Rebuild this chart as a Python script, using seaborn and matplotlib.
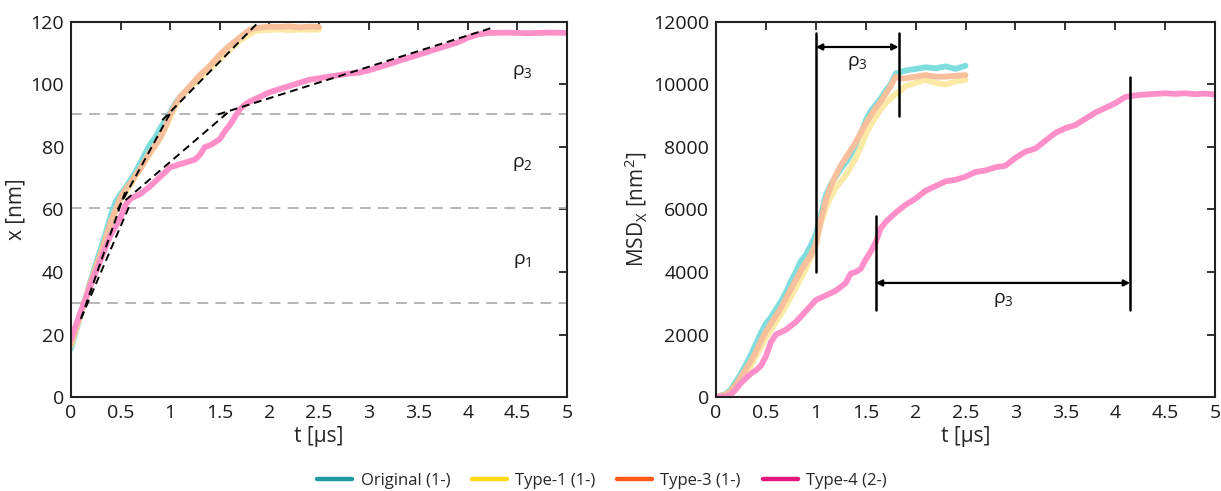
import numpy as np
import pandas as pd
import matplotlib
matplotlib.use("Agg")
import matplotlib.pyplot as plt
from matplotlib.lines import Line2D
import seaborn as sns

sns.set_theme(style="white")
plt.rcParams["font.family"] = ["Open Sans", "DejaVu Sans"]
plt.rcParams["mathtext.default"] = "regular"

# ---------------- data ----------------
series_names = ["Original (1-)", "Type-1 (1-)", "Type-3 (1-)", "Type-4 (2-)"]
legend_colors = ["#1e9aa0", "#ffd815", "#ff5a1c", "#e6177c"]
trace_colors = ["#7edede", "#fbe9a6", "#f8bf9c", "#ff8fc8"]

# position x [nm] vs time t [us]
t_pos_a = [0, 0.05, 0.1, 0.15, 0.2, 0.25, 0.3, 0.35, 0.4, 0.45, 0.5, 0.55, 0.6,
           0.65, 0.7, 0.75, 0.8, 0.85, 0.9, 0.95, 1.0, 1.05, 1.1, 1.2, 1.3, 1.4,
           1.5, 1.6, 1.7, 1.8, 1.85, 1.9, 2.0, 2.1, 2.2, 2.3, 2.4, 2.5]
x_original = [15.5, 21, 26.5, 32, 37.5, 42.5, 47.5, 52.5, 58, 62.5, 65, 67, 69.5,
              72, 75, 78, 81, 83, 86, 88.5, 91, 94, 96, 99, 102.5, 105.5,
              108.5, 111.5, 114.5, 116.5, 117.5, 118, 118.2, 118, 118.3, 118.1, 118.2, 118.3]
x_type1 = [16.5, 21.5, 26.5, 31.5, 36.5, 41, 45.5, 50.5, 55, 59.5, 63, 65.5, 68,
           70.5, 73, 75.5, 78, 80.5, 83, 86, 89.5, 93, 95.5, 99, 102, 105,
           108, 111, 114, 116, 117, 117.3, 117.5, 117.6, 117.4, 117.6, 117.5, 117.6]
x_type3 = [17, 22, 27, 32, 37, 41.5, 46, 51, 56, 60, 64, 66.5, 68.5,
           71, 73, 76, 78.5, 80.5, 83, 86.5, 90.5, 93.5, 96, 99.5, 103, 106,
           109.5, 112.5, 115, 117.5, 118, 118.2, 118.5, 118.4, 118.6, 118.3, 118.5, 118.4]
t_pos_b = [0, 0.05, 0.1, 0.15, 0.2, 0.25, 0.3, 0.35, 0.4, 0.45, 0.5, 0.55, 0.6,
           0.7, 0.8, 0.9, 1.0, 1.1, 1.2, 1.25, 1.3, 1.35, 1.4, 1.45, 1.5, 1.55,
           1.6, 1.65, 1.7, 1.75, 1.8, 1.9, 2.0, 2.2, 2.4, 2.6, 2.8, 2.9, 3.0,
           3.2, 3.4, 3.6, 3.8, 3.9, 4.0, 4.1, 4.2, 4.4, 4.6, 4.8, 5.0]
x_type4 = [18.5, 23, 27.5, 31.5, 36, 40, 44, 48, 52, 54.5, 57.5, 61.5, 63.5,
           65, 67.5, 70.5, 73.5, 74.5, 75.5, 76, 77.5, 80, 80.5, 81.5, 82.5, 85,
           87, 89.5, 92, 93.5, 94.5, 96, 97.5, 99.5, 101.5, 102.5, 103.5, 103.8, 104.5,
           106.5, 108.5, 110.5, 112.5, 113.5, 115, 116, 116.5, 116.6, 116.4, 116.6, 116.5]

# piecewise linear fits (t, x) for both groups
fit_segments = [
    ([0.10, 0.55], [25.0, 66.0]),
    ([0.47, 1.02], [60.0, 92.0]),
    ([0.92, 1.91], [88.6, 120.6]),
    ([0.10, 0.60], [25.0, 62.0]),
    ([0.55, 1.58], [63.0, 91.0]),
    ([1.48, 4.23], [90.4, 118.0]),
]
boundary_levels = [30.0, 60.5, 90.5]
region_labels = [(4.55, 43.5, "ρ$_1$"), (4.55, 74.5, "ρ$_2$"), (4.55, 104.0, "ρ$_3$")]

# MSD_X [nm^2] vs time t [us]
t_msd_a = [0, 0.1, 0.15, 0.2, 0.25, 0.3, 0.35, 0.4, 0.45, 0.5, 0.55, 0.6, 0.65,
           0.7, 0.75, 0.8, 0.85, 0.9, 0.95, 1.0, 1.05, 1.1, 1.15, 1.2, 1.25, 1.3,
           1.35, 1.4, 1.45, 1.5, 1.55, 1.6, 1.65, 1.7, 1.75, 1.8, 1.85, 1.9, 2.0,
           2.1, 2.2, 2.3, 2.4, 2.5]
msd_original = [0, 100, 250, 500, 750, 1050, 1350, 1700, 2050, 2350, 2550, 2800, 3050,
                3350, 3700, 4000, 4350, 4550, 4850, 5200, 5800, 6450, 6800, 7050, 7300, 7500,
                7750, 8000, 8400, 8850, 9150, 9350, 9550, 9800, 10000, 10350, 10400, 10450, 10500,
                10550, 10520, 10580, 10500, 10600]
msd_type1 = [0, 50, 120, 280, 500, 750, 1000, 1300, 1600, 1900, 2150, 2400, 2650,
             2900, 3200, 3500, 3800, 4100, 4450, 4850, 5550, 6050, 6400, 6700, 6900, 7100,
             7350, 7650, 8000, 8400, 8700, 8950, 9200, 9400, 9550, 9700, 9800, 9950, 10050,
             10150, 10050, 10000, 10100, 10150]
msd_type3 = [0, 80, 200, 400, 650, 900, 1150, 1450, 1800, 2100, 2350, 2600, 2850,
             3150, 3450, 3750, 4050, 4300, 4550, 4900, 5650, 6300, 6750, 7100, 7400, 7650,
             7900, 8150, 8450, 8750, 9000, 9250, 9450, 9700, 9950, 10250, 10200, 10200, 10250,
             10300, 10250, 10250, 10280, 10300]
t_msd_b = [0, 0.1, 0.15, 0.2, 0.25, 0.3, 0.35, 0.4, 0.45, 0.5, 0.55, 0.6, 0.7,
           0.8, 0.9, 1.0, 1.1, 1.2, 1.3, 1.35, 1.4, 1.45, 1.5, 1.55, 1.6, 1.65,
           1.7, 1.8, 1.9, 2.0, 2.1, 2.2, 2.3, 2.4, 2.5, 2.6, 2.7, 2.8, 2.9,
           3.0, 3.1, 3.2, 3.3, 3.4, 3.5, 3.6, 3.7, 3.8, 3.9, 4.0, 4.1, 4.2,
           4.3, 4.4, 4.5, 4.6, 4.7, 4.8, 4.9, 5.0]
msd_type4 = [0, 20, 80, 250, 450, 600, 750, 850, 1000, 1300, 1750, 2000, 2150,
             2400, 2750, 3100, 3250, 3400, 3650, 3950, 4000, 4100, 4400, 4650, 4950, 5400,
             5600, 5900, 6150, 6350, 6600, 6750, 6900, 6950, 7050, 7200, 7250, 7350, 7400,
             7650, 7850, 7950, 8200, 8450, 8600, 8700, 8900, 9100, 9250, 9400, 9600, 9650,
             9680, 9700, 9720, 9700, 9720, 9690, 9710, 9680]

# regime markers on the MSD panel:
# (t_start, t_end, arrow_y, start_bar_lo, start_bar_hi, end_bar_lo, end_bar_hi, label_t, label_y)
regime_markers = [
    (1.0, 1.83, 11200, 4000, 11650, 9000, 11650, 1.42, 10700),
    (1.6, 4.15, 3650, 2800, 5800, 2800, 10250, 2.88, 3100),
]

# ---------------- tables ----------------
pos_df = pd.concat([
    pd.DataFrame({"t": t_pos_a, "x": x_original, "series": series_names[0]}),
    pd.DataFrame({"t": t_pos_a, "x": x_type1, "series": series_names[1]}),
    pd.DataFrame({"t": t_pos_a, "x": x_type3, "series": series_names[2]}),
    pd.DataFrame({"t": t_pos_b, "x": x_type4, "series": series_names[3]}),
], ignore_index=True)
msd_df = pd.concat([
    pd.DataFrame({"t": t_msd_a, "msd": msd_original, "series": series_names[0]}),
    pd.DataFrame({"t": t_msd_a, "msd": msd_type1, "series": series_names[1]}),
    pd.DataFrame({"t": t_msd_a, "msd": msd_type3, "series": series_names[2]}),
    pd.DataFrame({"t": t_msd_b, "msd": msd_type4, "series": series_names[3]}),
], ignore_index=True)
trace_palette = dict(zip(series_names, trace_colors))

# ---------------- figure ----------------
fig = plt.figure(figsize=(12.21, 4.91), dpi=100)
ax1 = fig.add_axes([71 / 1221, 1 - 397 / 491, (567 - 71) / 1221, (397 - 22) / 491])
ax2 = fig.add_axes([716 / 1221, 1 - 397 / 491, (1215 - 716) / 1221, (397 - 22) / 491])

TICK_FS = 14
LABEL_FS = 15
t_ticks = np.arange(0, 5.01, 0.5)
t_labels = ["0", "0.5", "1", "1.5", "2", "2.5", "3", "3.5", "4", "4.5", "5"]

# left panel: position traces
for lvl in boundary_levels:
    ax1.axhline(lvl, color="#b0b0b0", lw=1.3, ls=(0, (6, 4)), zorder=1)

sns.lineplot(data=pos_df, x="t", y="x", hue="series", palette=trace_palette,
             hue_order=series_names, lw=4.2, ax=ax1, legend=False, sort=False,
             estimator=None, zorder=2, solid_capstyle="round")
for ts, xs in fit_segments:
    ax1.plot(ts, xs, color="black", lw=1.4, ls=(0, (4, 2.5)), zorder=4)
for tx, ty, lab in region_labels:
    ax1.text(tx, ty, lab, fontsize=TICK_FS, ha="center", va="center", color="#1a1a1a")

ax1.set_xlim(0, 5)
ax1.set_ylim(0, 120)
ax1.set_xticks(t_ticks)
ax1.set_xticklabels(t_labels)
ax1.set_yticks(np.arange(0, 121, 20))
ax1.set_xlabel("t [µs]", fontsize=LABEL_FS, labelpad=3)
ax1.set_ylabel("x [nm]", fontsize=LABEL_FS, labelpad=3)

# right panel: MSD traces
sns.lineplot(data=msd_df, x="t", y="msd", hue="series", palette=trace_palette,
             hue_order=series_names, lw=4.2, ax=ax2, legend=False, sort=False,
             estimator=None, zorder=2, solid_capstyle="round")

for (ta, tb, ya, s_lo, s_hi, e_lo, e_hi, lt, ly) in regime_markers:
    ax2.plot([ta, ta], [s_lo, s_hi], color="black", lw=1.8, zorder=5)
    ax2.plot([tb, tb], [e_lo, e_hi], color="black", lw=1.8, zorder=5)
    ax2.annotate("", xy=(tb, ya), xytext=(ta, ya),
                 arrowprops=dict(arrowstyle="<|-|>", color="black", lw=1.6,
                                 mutation_scale=9, shrinkA=0, shrinkB=0), zorder=5)
    ax2.text(lt, ly, "ρ$_3$", fontsize=TICK_FS, ha="center", va="center", color="#1a1a1a")

ax2.set_xlim(0, 5)
ax2.set_ylim(0, 12000)
ax2.set_xticks(t_ticks)
ax2.set_xticklabels(t_labels)
ax2.set_yticks(np.arange(0, 12001, 2000))
ax2.set_xlabel("t [µs]", fontsize=LABEL_FS, labelpad=3)
ax2.set_ylabel("MSD$_{X}$ [nm$^{2}$]", fontsize=LABEL_FS, labelpad=3)

for ax in (ax1, ax2):
    for sp in ax.spines.values():
        sp.set_visible(True)
        sp.set_color("#222222")
        sp.set_linewidth(1.5)
    ax.tick_params(direction="in", length=6, width=1.3, colors="#222222",
                   labelsize=TICK_FS, top=True, right=True, pad=5,
                   labelcolor="#1a1a1a")
    ax.grid(False)

handles = [Line2D([0], [0], color=c, lw=3.2) for c in legend_colors]
fig.legend(handles, series_names, loc="center", bbox_to_anchor=(0.493, 0.02),
           ncol=4, frameon=False, fontsize=12, handlelength=2.1,
           columnspacing=1.3, handletextpad=0.5)

fig.savefig("out.png", dpi=100)
